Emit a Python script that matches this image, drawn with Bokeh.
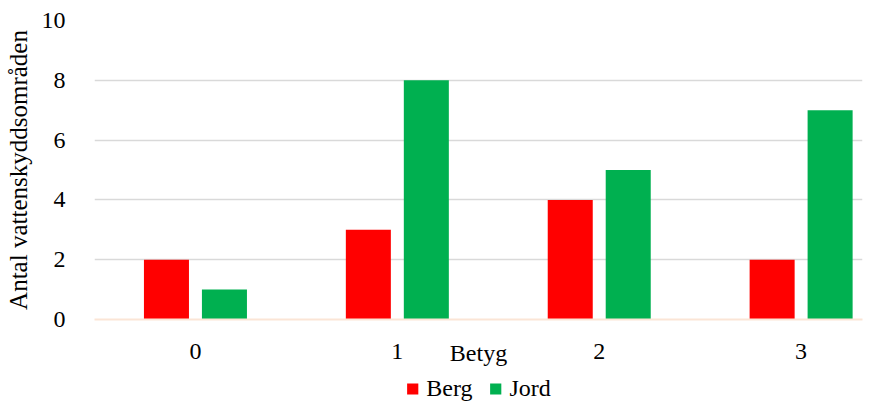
from bokeh.plotting import figure
from bokeh.layouts import column
from bokeh.models import FixedTicker, Legend, LegendItem, Range1d
from bokeh.embed import file_html
from bokeh.resources import INLINE

# Betyg categories and counts per soil type
betyg = [0, 1, 2, 3]
berg = [2, 3, 4, 2]
jord = [1, 8, 5, 7]
y_ticks = [0, 2, 4, 6, 8, 10]
series = ["Berg", "Jord"]

FONT = "Liberation Serif"
RED = "#FF0000"
GREEN = "#00B050"

p = figure(width=889, height=373, output_backend="svg", toolbar_location=None,
           x_range=Range1d(-0.5, 3.304), y_range=Range1d(0, 10),
           min_border_left=94, min_border_right=27, min_border_top=20,
           min_border_bottom=54)
p.outline_line_color = None

offset = 0.1436
bw = 0.223
r_berg = p.vbar(x=[b - offset for b in betyg], top=berg, width=bw,
                color=RED, line_color=None)
r_jord = p.vbar(x=[b + offset for b in betyg], top=jord, width=bw,
                color=GREEN, line_color=None)

# axes
p.xaxis.ticker = FixedTicker(ticks=betyg)
p.yaxis.ticker = FixedTicker(ticks=y_ticks)
for ax in (p.xaxis, p.yaxis):
    ax.major_tick_line_color = None
    ax.minor_tick_line_color = None
    ax.major_label_text_font = FONT
    ax.major_label_text_font_size = "24px"
    ax.major_label_text_color = "#000000"
    ax.axis_label_text_font = FONT
    ax.axis_label_text_font_size = "24px"
    ax.axis_label_text_font_style = "normal"
    ax.axis_label_text_color = "#000000"
p.xaxis.axis_line_color = "#FBE5D6"
p.xaxis.axis_line_width = 2
p.yaxis.axis_line_color = None
p.xaxis.major_label_standoff = 18
p.yaxis.major_label_standoff = 23
p.yaxis.axis_label = "Antal vattenskyddsområden"
p.yaxis.axis_label_text_font_size = "25px"
p.yaxis.axis_label_standoff = 7

# x-axis title pulled up level with the tick labels
p.xaxis.axis_label = "Betyg"
p.xaxis.axis_label_standoff = -22

p.xgrid.grid_line_color = None
p.ygrid.ticker = FixedTicker(ticks=y_ticks)
p.ygrid.grid_line_color = "#D9D9D9"
p.ygrid.grid_line_width = 1.5

# legend strip underneath the chart; its swatch renderers reuse the bar
# glyph styles, drawn outside the strip's visible range
lg = figure(width=889, height=30, output_backend="svg", toolbar_location=None,
            x_range=Range1d(0, 1), y_range=Range1d(0, 1),
            x_axis_location=None, y_axis_location=None,
            min_border_left=66, min_border_right=0,
            min_border_top=0, min_border_bottom=0)
lg.grid.visible = False
lg.outline_line_color = None
sw_berg = lg.vbar(x=[-5], top=[-5], width=0.1, color=RED, line_color=None)
sw_jord = lg.vbar(x=[-5], top=[-5], width=0.1, color=GREEN, line_color=None)
legend = Legend(items=[LegendItem(label=series[0], renderers=[sw_berg]),
                       LegendItem(label=series[1], renderers=[sw_jord])],
                orientation="horizontal", location="center",
                label_text_font=FONT, label_text_font_size="24px",
                label_text_color="#000000",
                glyph_width=14, glyph_height=14, spacing=16,
                label_standoff=7, padding=0, margin=0,
                border_line_color=None, background_fill_alpha=0)
lg.add_layout(legend)

layout = column(p, lg, spacing=0)
open("out.html", "w").write(file_html(layout, INLINE))
